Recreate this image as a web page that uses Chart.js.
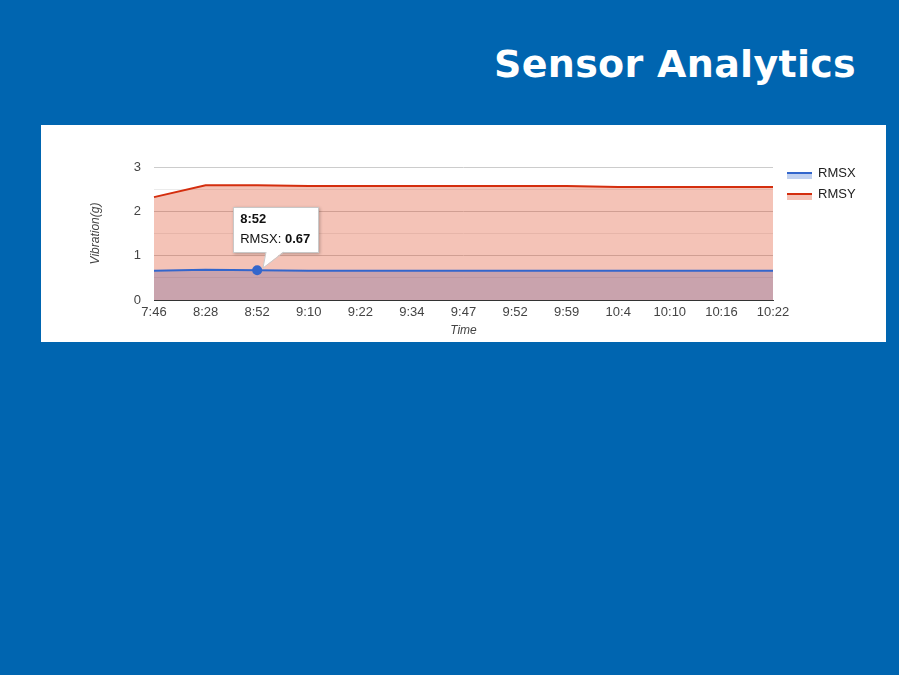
<!DOCTYPE html>
<html>
<head>
<meta charset="utf-8">
<script src="https://cdn.jsdelivr.net/npm/chart.js@4.4.1/dist/chart.umd.min.js"></script>
<style>
html,body{margin:0;padding:0;}
body{width:899px;height:675px;background:#0065b0;position:relative;overflow:hidden;font-family:"Liberation Sans",Arial,sans-serif;}
h1{position:absolute;right:43px;top:41px;margin:0;font:bold 38px "DejaVu Sans",Verdana,sans-serif;letter-spacing:0.3px;color:#fff;line-height:46px;}
#box{position:absolute;left:41px;top:125px;width:845px;height:217px;background:#fff;}
#tip{position:absolute;display:none;background:#fff;border:1px solid #c8c8c8;box-shadow:1px 1px 3px rgba(0,0,0,.25);
  padding:1px 8px 3px 6px;font:13px "Liberation Sans",Arial,sans-serif;line-height:20px;color:#111;white-space:nowrap;}
#tip svg{position:absolute;left:22px;top:43px;overflow:visible;}
</style>
</head>
<body>
<h1>Sensor Analytics</h1>
<div id="box">
  <canvas id="chart" width="845" height="217"></canvas>
  <div id="tip"></div>
</div>
<script>
// DATA
const times = ["7:46","8:28","8:52","9:10","9:22","9:34","9:47","9:52","9:59","10:4","10:10","10:16","10:22"];
const rmsx = [0.66,0.68,0.67,0.66,0.66,0.66,0.66,0.66,0.66,0.66,0.66,0.66,0.66];
const rmsy = [2.32,2.59,2.59,2.57,2.57,2.57,2.57,2.57,2.57,2.55,2.55,2.55,2.55];
const yTicks = [0,1,2,3];

const BLUE = "#3366cc";
const RED = "#d42e0e";
const FONT = "'Liberation Sans', Arial, sans-serif";

// TOOLTIP (html)
function drawTip(context){
  let tt = context.tooltip;
  let el = document.getElementById("tip");
  if(tt.opacity===0 || !tt.dataPoints || !tt.dataPoints.length){
    el.style.display="none";
    return;
  }
  let p = tt.dataPoints[0];
  el.innerHTML = "<b>"+p.label+"</b><br>"+p.dataset.label+": <b>"+p.formattedValue+"</b>"+
    '<svg width="30" height="20"><polygon points="10,0 28,0 7,17" fill="#fff"/>'+
    '<polyline points="10,1 7,17 28,1" fill="none" stroke="#c8c8c8" stroke-width="1"/></svg>';
  el.style.display="block";
  el.style.left = (tt.caretX-24)+"px";
  el.style.top = (tt.caretY-63)+"px";
}

// LEGEND (drawn right of plot)
const sideLegend = {
  id:"sideLegend",
  afterDraw(chart){
    let ctx = chart.ctx;
    let a = chart.chartArea;
    let x = a.right+14;
    let y = a.top+6;
    ctx.save();
    chart.data.datasets.forEach(ds=>{
      ctx.fillStyle = ds.backgroundColor;
      ctx.fillRect(x,y,25,6);
      ctx.strokeStyle = ds.borderColor;
      ctx.lineWidth = 2;
      ctx.beginPath();
      ctx.moveTo(x,y);
      ctx.lineTo(x+25,y);
      ctx.stroke();
      ctx.fillStyle = "#222";
      ctx.font = "13px "+FONT;
      ctx.textBaseline = "middle";
      ctx.fillText(ds.label,x+31,y);
      y += 21;
    });
    ctx.restore();
  }
};

let chart = new Chart(document.getElementById("chart"),{
  type:"line",
  data:{
    labels:times,
    datasets:[
      {label:"RMSX",data:rmsx,borderColor:BLUE,backgroundColor:"rgba(51,102,204,0.3)",
       fill:"origin",order:1,borderWidth:2,pointRadius:0,pointHoverRadius:5,
       pointBackgroundColor:BLUE,pointHoverBackgroundColor:BLUE,pointHoverBorderColor:BLUE,pointHoverBorderWidth:0},
      {label:"RMSY",data:rmsy,borderColor:RED,backgroundColor:"rgba(220,57,18,0.3)",
       fill:"origin",order:0,borderWidth:2,pointRadius:0,pointHoverRadius:0}
    ]
  },
  options:{
    responsive:false,
    animation:false,
    events:[],
    layout:{padding:{left:0,right:113,top:42,bottom:0}},
    elements:{line:{tension:0}},
    plugins:{
      legend:{display:false},
      filler:{drawTime:"beforeDatasetsDraw"},
      tooltip:{enabled:false,external:drawTip,mode:"nearest",intersect:false}
    },
    scales:{
      x:{
        grid:{display:false,drawTicks:false},
        border:{display:true,color:"#333",width:1},
        ticks:{color:"#444",font:{size:13,family:FONT},padding:5,maxRotation:0,autoSkip:false},
        title:{display:true,text:"Time",color:"#444",font:{size:12,style:"italic",family:FONT},padding:{top:0,bottom:4}},
        afterFit(s){ s.height = 42; }
      },
      y:{
        min:0,max:3,
        grid:{drawTicks:false,color:c=>Number.isInteger(c.tick.value)?"#cccccc":"#ebebeb"},
        border:{display:false},
        ticks:{stepSize:0.5,color:"#444",font:{size:13,family:FONT},padding:13,
          callback:v=>yTicks.includes(v)?v:""},
        title:{display:true,text:"Vibration(g)",color:"#444",font:{size:12,style:"italic",family:FONT},padding:{top:47,bottom:0}},
        afterFit(s){ s.width = 113; }
      }
    }
  },
  plugins:[sideLegend]
});

// show the hovered point like the original
let active = [{datasetIndex:0,index:2}];
chart.setActiveElements(active);
let pt = chart.getDatasetMeta(0).data[2];
chart.tooltip.setActiveElements(active,{x:pt.x,y:pt.y});
chart.update();
</script>
</body>
</html>
